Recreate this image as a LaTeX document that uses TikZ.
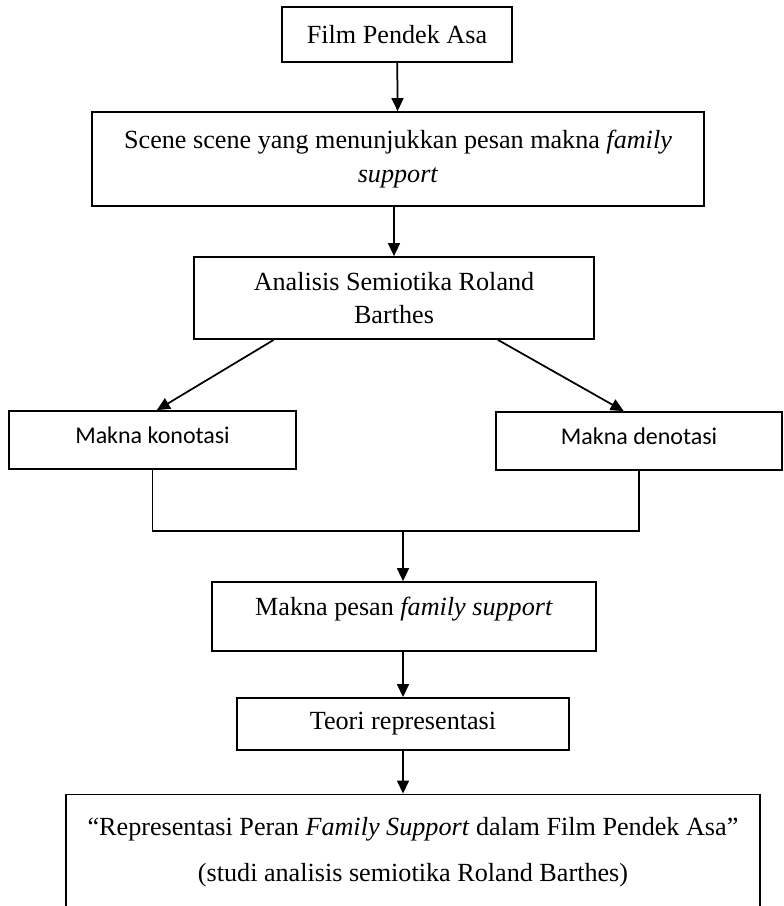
\documentclass[tikz,border=0pt]{standalone}
\usepackage{fontspec}
\setmainfont{Liberation Serif}
\newfontfamily\carlito{Carlito}
\usetikzlibrary{arrows.meta}

\tikzset{
  box/.style={draw, line width=0.8pt, align=center, inner sep=0pt,
    font=\fontsize{12}{15.5}\selectfont},
  sbox/.style={box, font=\carlito\fontsize{11}{13}\selectfont},
  arr/.style={line width=0.8pt, -{Triangle[length=6pt,width=5.5pt]}},
  ln/.style={line width=0.8pt}
}

\begin{document}
\begin{tikzpicture}[x=0.4587pt, y=-0.4587pt]
            \clip (0,0) rectangle (783,906);

            \node at (397,34.5) [box, minimum width=105.5pt, minimum height=25.2pt] (film) {Film Pendek Asa};
            \node at (398,159) [box, minimum width=280.7pt, minimum height=43.1pt] (scene) {Scene scene yang menunjukkan pesan makna \textit{family}\\\textit{support}};
            \node at (394,298) [box, minimum width=183.5pt, minimum height=37.6pt] (analisis) {Analisis Semiotika Roland\\Barthes};
            \node at (152.5,440) [sbox, minimum width=131.6pt, minimum height=26.6pt, text depth=4pt] (kon) {Makna konotasi};
            \node at (639,441) [sbox, minimum width=131.2pt, minimum height=26.6pt, text depth=4pt] (den) {Makna denotasi};
            \node at (404,616.5) [box, minimum width=176.1pt, minimum height=31.6pt, text depth=9.6pt] (pesan) {Makna pesan \textit{family support}};
            \node at (403,724) [box, minimum width=152.3pt, minimum height=23.9pt] (teori) {Teori representasi};
            \node at (413,852) [box, minimum width=318.3pt, minimum height=52.8pt, font=\fontsize{12}{21}\selectfont] (hasil) {``Representasi Peran \textit{Family Support} dalam Film Pendek Asa''\\(studi analisis semiotika Roland Barthes)};

            \coordinate (gabung) at (403,531);

            \draw[arr] (film) -- (scene);
            \draw[arr] (scene.south -| analisis.north) -- (analisis.north);
            \draw[arr] ([xshift=37pt]analisis.south west) -- ([xshift=2pt]kon.north);
            \draw[arr] ([xshift=-44.5pt]analisis.south east) -- ([xshift=-7pt]den.north);
            \draw[ln] (kon.south) |- (gabung) -| (den.south);
            \draw[arr] (gabung) -- (gabung |- pesan.north);
            \draw[arr] (pesan.south -| teori.north) -- (teori.north);
            \draw[arr] (teori.south) -- (teori.south |- hasil.north);
        \end{tikzpicture}
\end{document}
